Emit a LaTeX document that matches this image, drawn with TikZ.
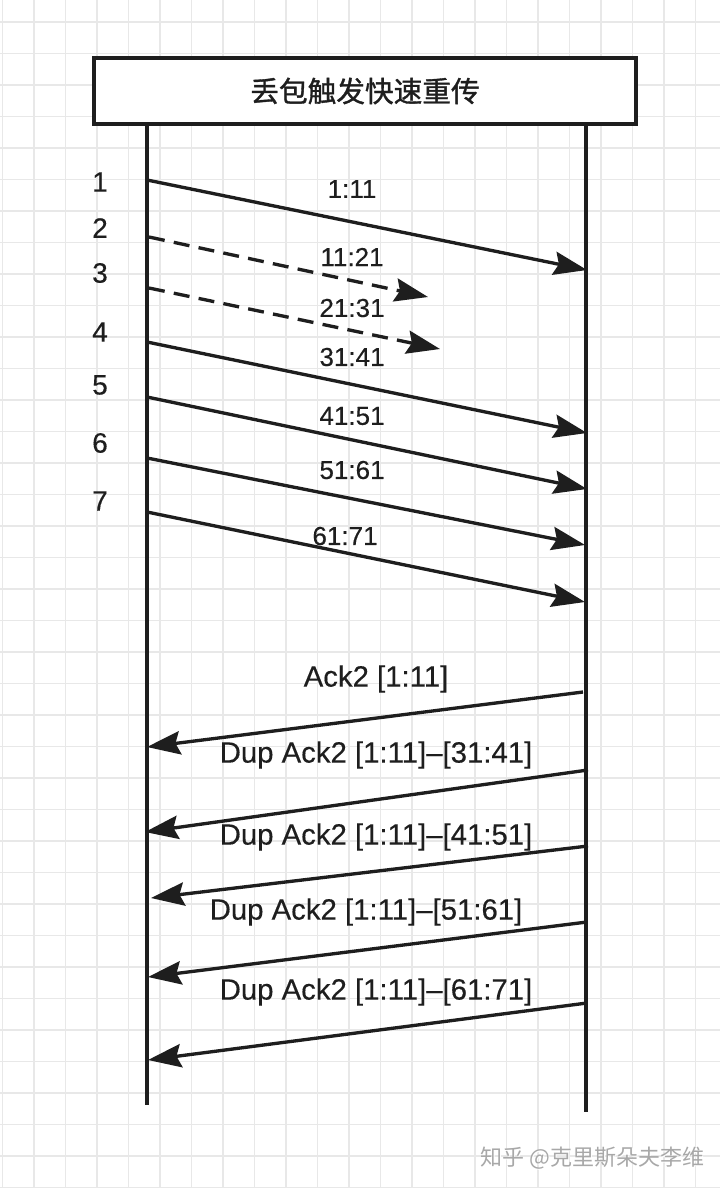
\documentclass[tikz,border=0pt]{standalone}
\usepackage{fontspec}
\setmainfont{Liberation Sans}[FakeBold=0.35]
\newfontfamily\cjk{Noto Sans CJK SC}[FakeBold=1.2]
\newfontfamily\cjkwm{Noto Sans CJK SC}
\usetikzlibrary{arrows.meta}
\definecolor{ink}{HTML}{1E1E1E}
\definecolor{gridc}{HTML}{E8E8E8}
\definecolor{wm}{HTML}{A8A8A8}
\begin{document}
\begin{tikzpicture}[x=0.75pt,y=-0.75pt,
  life/.style={draw=ink,line width=2.6pt},
  msg/.style={draw=ink,line width=2.5pt,-{Stealth[length=25pt,width=17.5pt,inset=3.5pt]}},
  lost/.style={msg,dash pattern=on 12pt off 7pt},
  seglbl/.style={text=ink,font=\fontsize{19.5pt}{20pt}\selectfont,inner sep=0pt},
  numlbl/.style={text=ink,font=\fontsize{21pt}{22pt}\selectfont,inner sep=0pt},
  acklbl/.style={text=ink,font=\fontsize{22pt}{23pt}\selectfont,inner sep=0pt}]
\useasboundingbox (0,0) rectangle (720,1188);
\fill[white] (0,0) rectangle (720,1188);
% grid
\foreach \i in {0,...,22} {\draw[gridc,line width=1.1pt] ({2.5+31.5*\i},0) -- ({2.5+31.5*\i},1188);}
\foreach \j in {0,...,37} {\draw[gridc,line width=1.1pt] (0,{22+31.5*\j}) -- (720,{22+31.5*\j});}
% watermark
\node[anchor=west,text=white,font=\cjkwm\fontsize{16.5pt}{17pt}\selectfont,inner sep=0pt] (wmshadow) at (481,1159) {知乎 @克里斯朵夫李维};
\node[anchor=west,text=wm,font=\cjkwm\fontsize{16.5pt}{17pt}\selectfont,inner sep=0pt] (watermark) at (480,1158) {知乎 @克里斯朵夫李维};
% lifelines
\coordinate (Ltop) at (147,124);
\coordinate (Lbot) at (147,1105);
\coordinate (Rtop) at (586,124);
\coordinate (Rbot) at (586,1112);
\draw[life] (Ltop) -- (Lbot);
\draw[life] (Rtop) -- (Rbot);
% title
\node[draw=ink,fill=white,line width=2.6pt,minimum width=406.5pt,minimum height=49.5pt,inner sep=0pt,
  text=ink,font=\cjk\fontsize{21.5pt}{22pt}\selectfont] (title) at (365,91) {丢包触发快速重传};
% sequence numbers
\node[numlbl] (n1) at (100,182) {1};
\node[numlbl] (n2) at (100,228) {2};
\node[numlbl] (n3) at (100,273) {3};
\node[numlbl] (n4) at (100,332) {4};
\node[numlbl] (n5) at (100,385) {5};
\node[numlbl] (n6) at (100,443) {6};
\node[numlbl] (n7) at (100,501) {7};
% forward segments
\coordinate (s1) at (147,180); \coordinate (e1) at (587,270);
\coordinate (s2) at (149,237); \coordinate (e2) at (428,297);
\coordinate (s3) at (149,288); \coordinate (e3) at (440,349);
\coordinate (s4) at (147,342); \coordinate (e4) at (587,433);
\coordinate (s5) at (147,397); \coordinate (e5) at (587,489);
\coordinate (s6) at (147,458); \coordinate (e6) at (585,545);
\coordinate (s7) at (147,512); \coordinate (e7) at (585,602);
\draw[msg] (s1) -- (e1);
\draw[lost] (s2) -- (e2);
\draw[lost] (s3) -- (e3);
\draw[msg] (s4) -- (e4);
\draw[msg] (s5) -- (e5);
\draw[msg] (s6) -- (e6);
\draw[msg] (s7) -- (e7);
\node[seglbl] (l1) at (352,189) {1:11};
\node[seglbl] (l2) at (352,257) {11:21};
\node[seglbl] (l3) at (352,308) {21:31};
\node[seglbl] (l4) at (352,357) {31:41};
\node[seglbl] (l5) at (352,416) {41:51};
\node[seglbl] (l6) at (352,470) {51:61};
\node[seglbl] (l7) at (345,536) {61:71};
% acks
\coordinate (a1) at (583,692); \coordinate (b1) at (147,747);
\coordinate (a2) at (588,770); \coordinate (b2) at (145,832);
\coordinate (a3) at (588,846); \coordinate (b3) at (151,898);
\coordinate (a4) at (587,922); \coordinate (b4) at (148,977);
\coordinate (a5) at (587,1003); \coordinate (b5) at (148,1060);
\draw[msg] (a1) -- (b1);
\draw[msg] (a2) -- (b2);
\draw[msg] (a3) -- (b3);
\draw[msg] (a4) -- (b4);
\draw[msg] (a5) -- (b5);
\node[acklbl] (k1) at (376,679) {Ack2 [1:11]};
\node[acklbl] (k2) at (376,755) {Dup Ack2 [1:11]–[31:41]};
\node[acklbl] (k3) at (376,837) {Dup Ack2 [1:11]–[41:51]};
\node[acklbl] (k4) at (366,912) {Dup Ack2 [1:11]–[51:61]};
\node[acklbl] (k5) at (376,992) {Dup Ack2 [1:11]–[61:71]};
\end{tikzpicture}
\end{document}
